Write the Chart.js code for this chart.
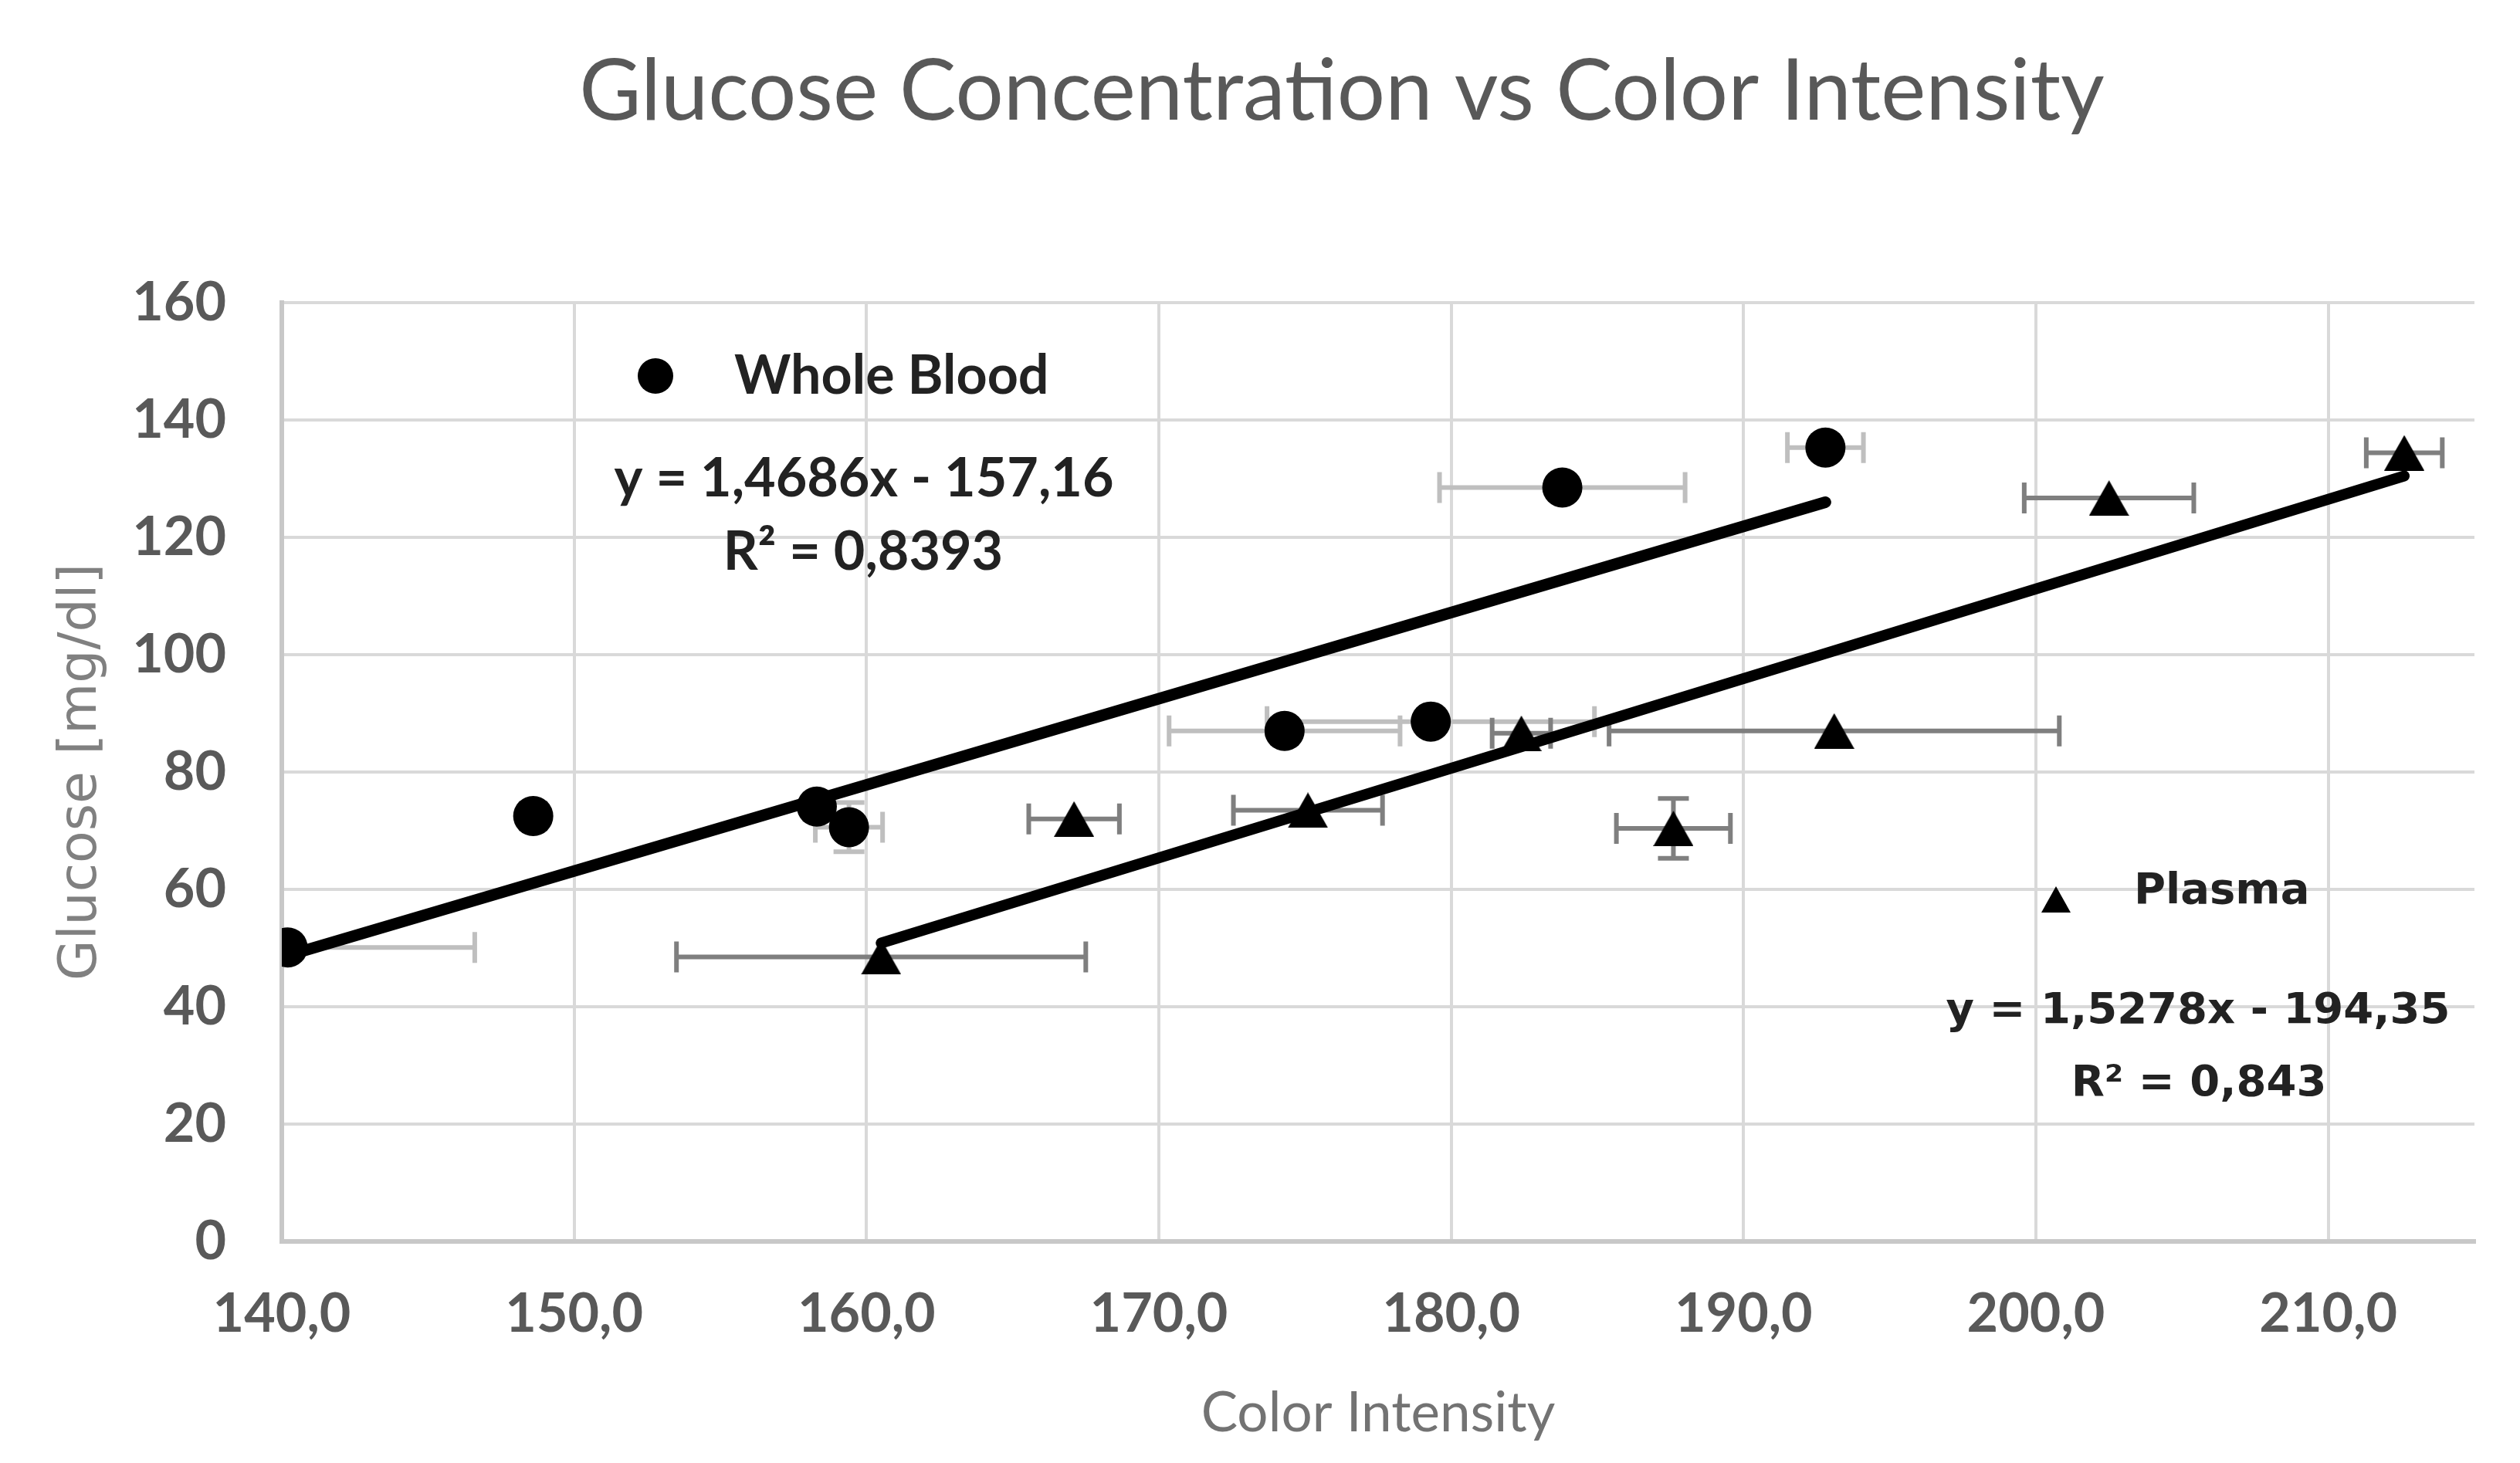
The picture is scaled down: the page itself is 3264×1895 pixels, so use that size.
<!DOCTYPE html>
<html>
<head>
<meta charset="utf-8">
<title>Glucose Concentration vs Color Intensity</title>
<script src="https://cdn.jsdelivr.net/npm/chart.js@4.4.1/dist/chart.umd.min.js"></script>
<style>
  html, body { margin: 0; padding: 0; background: #fff; }
  #chart { display: block; }
</style>
</head>
<body>
<canvas id="chart" width="3264" height="1895"></canvas>
<script>
// values
const xTicks = [140, 150, 160, 170, 180, 190, 200, 210];
const yTicks = [0, 20, 40, 60, 80, 100, 120, 140, 160];

const bloodX = [140.2, 148.6, 158.3, 159.4, 174.3, 179.3, 183.8, 192.8];
const bloodY = [50.1, 72.5, 74.1, 70.6, 87.0, 88.6, 128.5, 135.3];
const bloodXErr = [6.4, 0.4, 0.4, 1.15, 3.95, 5.6, 4.2, 1.3];
const bloodYErr = [0, 0, 0, 4.2, 0, 0, 0, 0];

const plasmaX = [160.5, 167.1, 175.1, 182.4, 193.1, 187.6, 202.5, 212.6];
const plasmaY = [48.5, 72.0, 73.5, 86.6, 87.0, 70.4, 126.7, 134.4];
const plasmaXErr = [7.0, 1.55, 2.55, 1.0, 7.7, 1.95, 2.9, 1.3];
const plasmaYErr = [0, 0, 0, 0, 0, 5.1, 0, 0];

// trendline coefficients as printed on the chart
const bloodFit = [1.4686, -157.16];
const plasmaFit = [1.5278, -194.35];

const points = (xs, ys) => xs.map((x, i) => ({ x, y: ys[i] }));
const trend = (xs, fit) => {
    const lo = Math.min(...xs), hi = Math.max(...xs);
    return [lo, hi].map((x) => ({ x, y: fit[0] * x + fit[1] }));
};

const triangle = (w, h) => {
    const c = document.createElement('canvas');
    c.width = w;
    c.height = h;
    const g = c.getContext('2d');
    g.fillStyle = '#000';
    g.beginPath();
    g.moveTo(0, h);
    g.lineTo(w / 2, 0);
    g.lineTo(w, h);
    g.closePath();
    g.fill();
    return c;
};

const errorSets = [
    { xs: bloodX, ys: bloodY, xErr: bloodXErr, yErr: bloodYErr, color: '#bfbfbf' },
    { xs: plasmaX, ys: plasmaY, xErr: plasmaXErr, yErr: plasmaYErr, color: '#7f7f7f' },
];

const errorBars = {
    id: 'errorBars',
    beforeDatasetsDraw(chart) {
        const { ctx, chartArea: a, scales: { x, y } } = chart;
        const cap = 20;
        ctx.save();
        ctx.beginPath();
        ctx.rect(a.left, a.top, a.right - a.left, a.bottom - a.top);
        ctx.clip();
        ctx.lineWidth = 6;
        errorSets.forEach((set) => {
            ctx.strokeStyle = set.color;
            set.xs.forEach((xv, i) => {
                const px = x.getPixelForValue(xv);
                const py = y.getPixelForValue(set.ys[i]);
                ctx.beginPath();
                if (set.xErr[i]) {
                    const l = x.getPixelForValue(xv - set.xErr[i]);
                    const r = x.getPixelForValue(xv + set.xErr[i]);
                    ctx.moveTo(l, py); ctx.lineTo(r, py);
                    ctx.moveTo(l, py - cap); ctx.lineTo(l, py + cap);
                    ctx.moveTo(r, py - cap); ctx.lineTo(r, py + cap);
                }
                if (set.yErr[i]) {
                    const t = y.getPixelForValue(set.ys[i] + set.yErr[i]);
                    const b = y.getPixelForValue(set.ys[i] - set.yErr[i]);
                    ctx.moveTo(px, t); ctx.lineTo(px, b);
                    ctx.moveTo(px - cap, t); ctx.lineTo(px + cap, t);
                    ctx.moveTo(px - cap, b); ctx.lineTo(px + cap, b);
                }
                ctx.stroke();
            });
        });
        ctx.restore();
    },
};

// title, legend entries and trendline equations
const labels = {
    id: 'labels',
    afterDraw(chart) {
        const ctx = chart.ctx;
        ctx.save();
        ctx.textBaseline = 'middle';

        ctx.fillStyle = '#595959';
        ctx.textAlign = 'center';
        ctx.font = '110px Lato';
        ctx.fillText('Glucose Concentration vs Color Intensity', 1738, 120);

        ctx.fillStyle = '#000';
        ctx.beginPath();
        ctx.arc(849, 487, 23, 0, Math.PI * 2);
        ctx.fill();
        ctx.drawImage(triangle(38, 34), 2663 - 19, 1165 - 17);

        ctx.fillStyle = '#222';
        ctx.font = 'bold 70px Lato';
        ctx.textAlign = 'left';
        ctx.fillText('Whole Blood', 951, 487);
        ctx.textAlign = 'center';
        ctx.fillText('y = 1,4686x - 157,16', 1119, 620);
        ctx.fillText('R² = 0,8393', 1118, 715);

        ctx.font = 'bold 56px "DejaVu Sans"';
        ctx.textAlign = 'left';
        ctx.fillText('Plasma', 2764, 1155);
        ctx.textAlign = 'center';
        ctx.fillText('y = 1,5278x - 194,35', 2847, 1310);
        ctx.fillText('R² = 0,843', 2848, 1404);
        ctx.restore();
    },
};

new Chart(document.getElementById('chart'), {
    type: 'scatter',
    data: {
        datasets: [
            {
                type: 'line',
                data: trend(bloodX, bloodFit),
                borderColor: '#000',
                borderWidth: 15,
                borderCapStyle: 'round',
                pointRadius: 0,
            },
            {
                type: 'line',
                data: trend(plasmaX, plasmaFit),
                borderColor: '#000',
                borderWidth: 14,
                borderCapStyle: 'round',
                pointRadius: 0,
            },
            {
                label: 'Whole Blood',
                data: points(bloodX, bloodY),
                pointStyle: 'circle',
                pointRadius: 26,
                backgroundColor: '#000',
                borderColor: '#000',
                borderWidth: 0,
            },
            {
                label: 'Plasma',
                data: points(plasmaX, plasmaY),
                pointStyle: triangle(52, 46),
                pointRadius: 26,
                backgroundColor: '#000',
                borderColor: '#000',
            },
        ],
    },
    options: {
        responsive: false,
        devicePixelRatio: 1,
        animation: false,
        layout: { padding: { left: 66, top: 392, right: 59, bottom: 0 } },
        plugins: {
            legend: { display: false },
            tooltip: { enabled: false },
        },
        scales: {
            x: {
                type: 'linear',
                min: 140,
                max: 215,
                afterBuildTicks: (s) => { s.ticks = xTicks.map((value) => ({ value })); },
                afterFit: (s) => { s.height = 287; s.paddingLeft = 0; s.paddingRight = 0; },
                grid: { color: '#d9d9d9', lineWidth: 4, drawTicks: false },
                border: { color: '#c8c8c8', width: 6 },
                ticks: {
                    padding: 52,
                    color: '#595959',
                    font: { family: 'Lato', size: 70, weight: 'bold' },
                    callback: (v) => v.toFixed(1).replace('.', ','),
                },
                title: {
                    display: true,
                    text: 'Color Intensity',
                    color: '#737373',
                    font: { family: 'Lato', size: 71 },
                    padding: { top: 0, bottom: 21 },
                },
            },
            y: {
                min: 0,
                max: 160,
                afterBuildTicks: (s) => { s.ticks = yTicks.map((value) => ({ value })); },
                afterFit: (s) => { s.width = 299; s.paddingTop = 0; s.paddingBottom = 0; },
                grid: { color: '#d9d9d9', lineWidth: 4, drawTicks: false },
                border: { color: '#c8c8c8', width: 6 },
                ticks: {
                    padding: 72,
                    color: '#595959',
                    font: { family: 'Lato', size: 70, weight: 'bold' },
                },
                title: {
                    display: true,
                    text: 'Glucose [mg/dl]',
                    color: '#808080',
                    font: { family: 'DejaVu Sans', size: 68 },
                    padding: { top: 0, bottom: 0 },
                },
            },
        },
    },
    plugins: [errorBars, labels],
});
</script>
</body>
</html>
